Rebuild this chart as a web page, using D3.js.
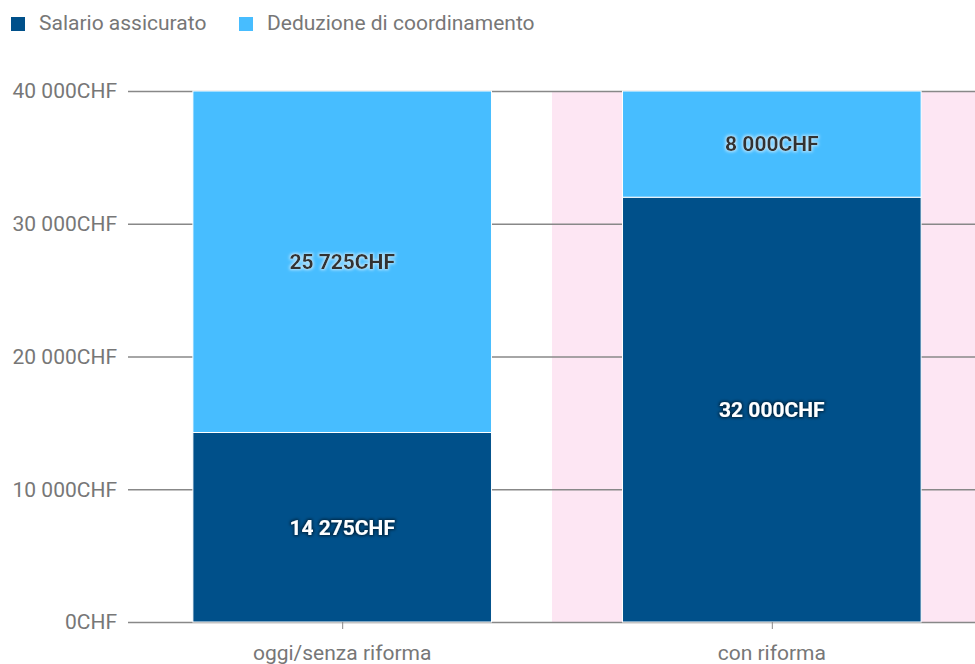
<!DOCTYPE html>
<html><head><meta charset="utf-8">
<script src="https://cdn.jsdelivr.net/npm/d3@7"></script>
<style>
body{margin:0;background:#fff;}
svg text{font-family:Roboto,"Noto Sans",sans-serif;}
</style></head>
<body><svg id="c" width="975" height="664"></svg>
<script>
const categories = ["oggi/senza riforma", "con riforma"];
const seriesNames = ["Salario assicurato", "Deduzione di coordinamento"];
const salarioAssicurato = [14275, 32000];
const deduzioneCoordinamento = [25725, 8000];
const yTicks = [0, 10000, 20000, 30000, 40000];
const highlighted = ["con riforma"];
const colors = ["#00508a", "#47bdff"];

(function () {
const svg = d3.select("#c");
const W = 975, H = 664;
const mLeft = 128, mTop = 91, mBottom = 622;
const FS = 21;

const loc = d3.formatLocale({decimal: ",", thousands: " ", grouping: [3], currency: ["", "CHF"]});
const fmt = v => loc.format(",.0f")(v) + "CHF";

const x = d3.scaleBand().domain(categories).range([mLeft, 986]).paddingInner(0.305).paddingOuter(0.151);
const y = d3.scaleLinear().domain([0, 40000]).range([mBottom, mTop]);

const defs = svg.append("defs");
function halo(id, color, op) {
  const f = defs.append("filter").attr("id", id).attr("x", "-20%").attr("y", "-50%").attr("width", "140%").attr("height", "200%");
  f.append("feMorphology").attr("in", "SourceAlpha").attr("operator", "dilate").attr("radius", 0.6).attr("result", "d");
  f.append("feGaussianBlur").attr("in", "d").attr("stdDeviation", 1.6).attr("result", "b");
  f.append("feFlood").attr("flood-color", color).attr("flood-opacity", op);
  f.append("feComposite").attr("in2", "b").attr("operator", "in").attr("result", "s");
  const m = f.append("feMerge");
  m.append("feMergeNode").attr("in", "s");
  m.append("feMergeNode").attr("in", "SourceGraphic");
}
halo("haloLight", "#ffffff", 0.6);
halo("haloDark", "#000000", 0.55);

// highlight band
highlighted.forEach(c => {
  const hx = x(c) - x.step() * x.paddingInner() / 2 - 5;
  svg.append("rect")
    .attr("x", hx)
    .attr("y", y(40000))
    .attr("width", W - hx)
    .attr("height", y(0) - y(40000))
    .attr("fill", "#fde6f3");
});

// gridlines
svg.append("g").selectAll("line").data(yTicks).join("line")
  .attr("x1", mLeft).attr("x2", W)
  .attr("y1", d => y(d) + 0.5).attr("y2", d => y(d) + 0.5)
  .attr("stroke", "#888").attr("stroke-width", d => d === 0 ? 1.5 : 1.3);

// y labels
svg.append("g").selectAll("text").data(yTicks).join("text")
  .attr("x", 117).attr("y", d => y(d)).attr("dy", "0.35em")
  .attr("text-anchor", "end").attr("fill", "#777").attr("font-size", FS)
  .text(d => fmt(d));

// stack
const rows = categories.map((c, i) => ({cat: c, s0: salarioAssicurato[i], s1: deduzioneCoordinamento[i]}));
const stack = d3.stack().keys(["s0", "s1"])(rows);

const g = svg.append("g");
stack.forEach((layer, li) => {
  g.selectAll(null).data(layer).join("rect")
    .attr("x", d => x(d.data.cat))
    .attr("width", x.bandwidth())
    .attr("y", d => y(d[1]))
    .attr("height", d => y(d[0]) - y(d[1]))
    .attr("fill", colors[li])
    .attr("stroke", "#fff").attr("stroke-width", 1);
});
stack.forEach((layer, li) => {
  g.selectAll(null).data(layer).join("text")
    .attr("x", d => x(d.data.cat) + x.bandwidth() / 2)
    .attr("y", d => (y(d[0]) + y(d[1])) / 2)
    .attr("dy", "0.35em")
    .attr("text-anchor", "middle")
    .attr("font-size", FS).attr("font-weight", "bold")
    .attr("fill", li === 0 ? "#ffffff" : "#333333")
    .attr("filter", li === 0 ? "url(#haloDark)" : "url(#haloLight)")
    .text(d => fmt(d[1] - d[0]));
});

// x axis ticks and labels
const xa = svg.append("g");
xa.selectAll("line").data(categories).join("line")
  .attr("x1", d => x(d) + x.bandwidth() / 2 + 0.5).attr("x2", d => x(d) + x.bandwidth() / 2 + 0.5)
  .attr("y1", mBottom).attr("y2", mBottom + 7).attr("stroke", "#888").attr("stroke-width", 1);
xa.selectAll("text").data(categories).join("text")
  .attr("x", d => x(d) + x.bandwidth() / 2).attr("y", 660)
  .attr("text-anchor", "middle").attr("fill", "#777").attr("font-size", FS)
  .text(d => d);

// legend
const lg = svg.append("g");
const legX = [11, 239];
seriesNames.forEach((n, i) => {
  lg.append("rect").attr("x", legX[i]).attr("y", 17).attr("width", 14).attr("height", 14).attr("fill", colors[i]);
  lg.append("text").attr("x", legX[i] + 28).attr("y", 30).attr("fill", "#777").attr("font-size", FS).text(n);
});
})();
</script></body></html>
